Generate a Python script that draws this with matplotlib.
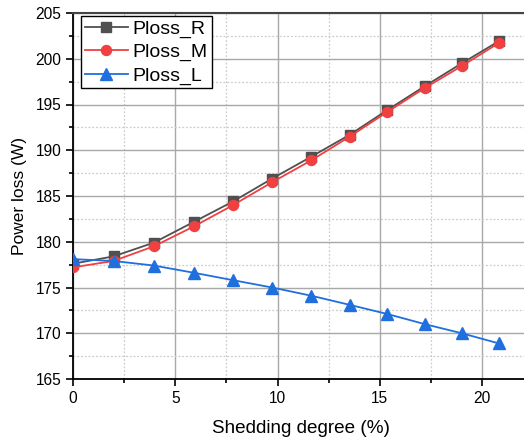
import matplotlib
matplotlib.use("Agg")
import matplotlib.pyplot as plt
from matplotlib.ticker import MultipleLocator

plt.rcParams["font.family"] = ["Liberation Sans", "DejaVu Sans"]

shedding = [0, 1.98, 3.95, 5.93, 7.82, 9.73, 11.65, 13.53, 15.37, 17.19, 19.0, 20.8]
ploss_r = [177.6, 178.4, 179.9, 182.2, 184.4, 186.9, 189.3, 191.7, 194.4, 197.0, 199.5, 201.9]
ploss_m = [177.2, 177.9, 179.5, 181.7, 184.0, 186.5, 188.9, 191.5, 194.2, 196.8, 199.2, 201.7]
ploss_l = [178.1, 177.9, 177.4, 176.6, 175.8, 175.0, 174.1, 173.1, 172.1, 171.0, 170.0, 168.9]

fig = plt.figure(figsize=(5.24, 4.45), dpi=100)
ax = fig.add_axes([73 / 524, 1 - 379 / 445, 1 - 73 / 524 + 0.01, (379 - 13) / 445])

ax.plot(shedding, ploss_r, color="#505050", marker="s", markersize=7, lw=1.3,
        label="Ploss_R", zorder=3)
ax.plot(shedding, ploss_m, color="#f04040", marker="o", markersize=7.2, lw=1.3,
        label="Ploss_M", zorder=4)
ax.plot(shedding, ploss_l, color="#1f6fdf", marker="^", markersize=8, lw=1.3,
        label="Ploss_L", zorder=5)

ax.set_xlim(0, 22.3)
ax.set_ylim(165, 205)
ax.xaxis.set_major_locator(MultipleLocator(5))
ax.xaxis.set_minor_locator(MultipleLocator(2.5))
ax.yaxis.set_major_locator(MultipleLocator(5))
ax.yaxis.set_minor_locator(MultipleLocator(2.5))

ax.grid(which="major", color="#a8a8a8", lw=1.0, ls="-")
ax.grid(which="minor", color="#cccccc", lw=0.9, ls=(0, (1.5, 1.5)))
ax.set_axisbelow(True)

ax.tick_params(which="both", direction="out", labelsize=11.2, width=1.2)
ax.tick_params(which="major", length=5)
ax.tick_params(which="minor", length=3)

for side in ["left", "bottom"]:
    ax.spines[side].set_linewidth(1.3)
    ax.spines[side].set_color("black")
ax.spines["top"].set_linewidth(1.5)
ax.spines["top"].set_color("#444444")
ax.spines["right"].set_visible(False)

ax.set_xlabel("Shedding degree (%)", fontsize=13.6, labelpad=10)
ax.set_ylabel("Power loss (W)", fontsize=12.5, labelpad=6)

leg = ax.legend(loc="upper left", bbox_to_anchor=(81 / 524, 1 - 16 / 445),
                bbox_transform=fig.transFigure, fontsize=14,
                fancybox=False, framealpha=1, edgecolor="black",
                borderpad=0.2, labelspacing=0.29, handlelength=2.2,
                handletextpad=0.26, borderaxespad=0)
leg.get_frame().set_linewidth(1.0)

fig.savefig("out.png", dpi=100)
